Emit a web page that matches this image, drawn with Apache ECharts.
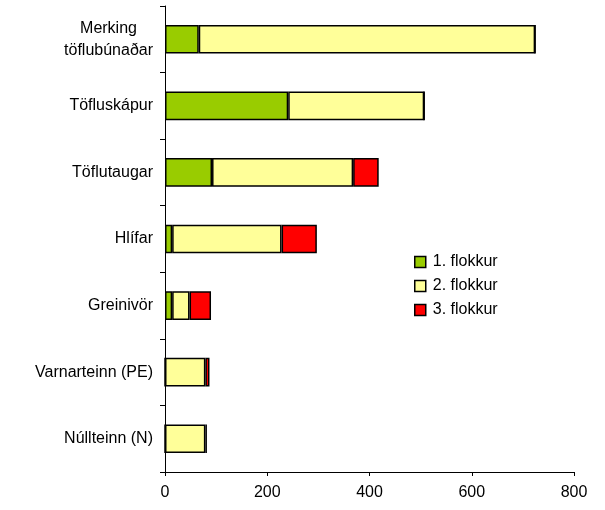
<!DOCTYPE html>
<html><head><meta charset="utf-8">
<script src="https://cdn.jsdelivr.net/npm/echarts@6/dist/echarts.min.js"></script>
<style>html,body{margin:0;padding:0;background:#fff}#c{width:605px;height:510px}</style>
</head><body><div id="c"></div>
<script>
const categories = ['Merking\ntöflubúnaðar', 'Töfluskápur', 'Töflutaugar', 'Hlífar', 'Greinivör', 'Varnarteinn (PE)', 'Núllteinn (N)'];
const seriesNames = ['1. flokkur', '2. flokkur', '3. flokkur'];
const flokkur1 = [66, 241, 92, 14, 14, 0, 0];
const flokkur2 = [658, 266, 276, 214, 34, 79, 79];
const flokkur3 = [0, 0, 50, 69, 42, 8, 3];
const xTicks = [0, 200, 400, 600, 800];

const colors = ['#99CC00', '#FFFF99', '#FF0000'];
const font = 'Liberation Sans, Arial, sans-serif';
const fs = 16;
const chart = echarts.init(document.getElementById('c'));
const data = [flokkur1, flokkur2, flokkur3];
chart.setOption({
  animation: false,
  grid: {left: 165, right: 31, top: 6, bottom: 38},
  legend: {
    orient: 'vertical', left: 414, top: 254, itemGap: 8, padding: 0,
    itemWidth: 11, itemHeight: 11, icon: 'rect',
    textStyle: {fontFamily: font, fontSize: fs, color: '#000', padding: [0, 0, 0, 2]},
    data: seriesNames.map((n, i) => ({name: n, itemStyle: {color: colors[i], borderColor: '#000', borderWidth: 1.5}}))
  },
  xAxis: {
    type: 'value', min: xTicks[0], max: xTicks[xTicks.length - 1], interval: 200,
    splitLine: {show: false},
    axisLine: {show: true, lineStyle: {color: '#000'}},
    axisTick: {show: true, length: 4, lineStyle: {color: '#000'}},
    axisLabel: {fontFamily: font, fontSize: fs, color: '#000', margin: 13}
  },
  yAxis: {
    type: 'category', inverse: true, data: categories,
    axisLine: {show: true, lineStyle: {color: '#000'}},
    axisTick: {show: true, length: 5, lineStyle: {color: '#000'}},
    axisLabel: {
      fontFamily: font, fontSize: fs, color: '#000', margin: 12,
      formatter: v => v.split('\n').map(s => '{c|' + s + '}').join('\n'),
      rich: {c: {align: 'center', fontFamily: font, fontSize: fs, color: '#000', lineHeight: 22}}
    }
  },
  series: data.map((d, i) => ({
    name: seriesNames[i], type: 'bar', stack: 'a', data: d,
    barWidth: '43%',
    itemStyle: {color: colors[i], borderColor: '#000', borderWidth: 1.5}
  }))
});
</script></body></html>
